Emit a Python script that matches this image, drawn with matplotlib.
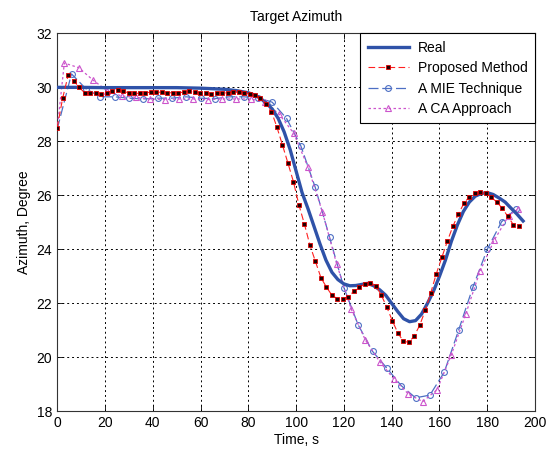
import numpy as np
import matplotlib
matplotlib.use("Agg")
import matplotlib.pyplot as plt

plt.rcParams['font.family'] = ['Liberation Sans', 'DejaVu Sans']

# Real trajectory
real_t = [0, 10, 20, 30, 40, 50, 60, 70, 75, 80, 82.5, 85, 87.5, 90, 92.5, 95, 97.5, 100,
          102.5, 105, 107.5, 110, 112.5, 115, 117.5, 120, 122.5, 125, 127.5, 130,
          132.5, 135, 137.5, 140, 142.5, 145, 147.5, 150, 152.5, 155, 157.5, 160,
          162.5, 165, 167.5, 170, 172.5, 175, 177.5, 180, 182.5, 185, 187.5, 190,
          192.5, 195]
real_y = [30.0, 30.0, 29.99, 29.99, 29.99, 29.99, 29.97, 29.93, 29.88, 29.8, 29.72, 29.6,
          29.42, 29.2, 28.85, 28.35, 27.7, 26.9, 26.1, 25.5, 24.85, 24.2, 23.6, 23.15,
          22.88, 22.72, 22.65, 22.66, 22.7, 22.74, 22.65, 22.5, 22.3, 22.0, 21.7,
          21.43, 21.32, 21.36, 21.6, 22.0, 22.45, 23.0, 23.6, 24.3, 24.9, 25.4,
          25.75, 25.97, 26.07, 26.1, 26.03, 25.9, 25.75, 25.52, 25.3, 25.05]

# Proposed method (sampled every 2.3 s)
prop_t = [round(2.3 * k, 1) for k in range(85)]
prop_y = [28.5, 29.6, 30.45, 30.25, 30.0, 29.8, 29.78, 29.78, 29.75, 29.8,
          29.88, 29.9, 29.85, 29.8, 29.78, 29.78, 29.8, 29.82, 29.82, 29.82,
          29.8, 29.8, 29.8, 29.82, 29.85, 29.82, 29.8, 29.78, 29.75, 29.78,
          29.78, 29.8, 29.82, 29.82, 29.8, 29.75, 29.7, 29.6, 29.4, 29.1,
          28.52, 27.86, 27.19, 26.5, 25.64, 24.93, 24.15, 23.55, 22.95, 22.6,
          22.3, 22.17, 22.17, 22.25, 22.45, 22.6, 22.72, 22.76, 22.65, 22.3,
          21.85, 21.35, 20.9, 20.6, 20.55, 20.8, 21.2, 21.75, 22.4, 23.1,
          23.7, 24.3, 24.85, 25.3, 25.7, 25.95, 26.08, 26.12, 26.07, 25.93,
          25.75, 25.52, 25.22, 24.92, 24.85]
prop_y = prop_y[:len(prop_t)]

# MIE technique
mie_t = [0, 6, 12, 18, 24, 30, 36, 42, 48, 54, 60, 66, 72, 78, 84, 90, 96, 102,
         108, 114, 120, 126, 132, 138, 144, 150, 156, 162, 168, 174, 180, 186, 192]
mie_y = [28.45, 30.5, 29.95, 29.65, 29.65, 29.6, 29.57, 29.6, 29.6, 29.65, 29.6,
         29.58, 29.65, 29.65, 29.62, 29.45, 28.85, 27.83, 26.3, 24.45, 22.58, 21.2,
         20.22, 19.6, 18.95, 18.5, 18.6, 19.45, 21.0, 22.6, 24.0, 25.02, 25.5]

# CA approach
ca_t = [0, 3, 9, 15, 21, 27, 33, 39, 45, 51, 57, 63, 69, 75, 81, 87, 93, 99, 105,
        111, 117, 123, 129, 135, 141, 147, 153, 159, 165, 171, 177, 183, 189, 193]
ca_y = [28.45, 30.9, 30.73, 30.27, 29.87, 29.68, 29.63, 29.57, 29.55, 29.57, 29.57,
        29.55, 29.57, 29.57, 29.57, 29.45, 29.0, 28.3, 27.04, 25.39, 23.45, 21.8,
        20.64, 19.84, 19.19, 18.64, 18.36, 18.8, 20.1, 21.6, 23.2, 24.35, 25.25, 25.5]

x_ticks = [0, 20, 40, 60, 80, 100, 120, 140, 160, 180, 200]
y_ticks = [18, 20, 22, 24, 26, 28, 30, 32]

fig = plt.figure(figsize=(5.55, 4.51), dpi=100)
ax = fig.add_axes([0.103, 0.088, 0.861, 0.838])

ax.plot(real_t, real_y, color='#2f52a8', lw=2.4, label='Real', zorder=4)
ax.plot(prop_t, prop_y, color='#ff2020', lw=0.8, ls=(0, (6, 3)), marker='s', ms=2.3,
        mfc='#200000', mec='#e00000', mew=0.6, label='Proposed Method', zorder=5)
ax.plot(mie_t, mie_y, color='#4d6fc4', lw=0.9, ls=(0, (8, 3)), marker='o', ms=4.2,
        mfc='none', mec='#4d6fc4', mew=0.8, markevery=list(range(1, len(mie_t))),
        label='A MIE Technique', zorder=3)
ax.plot(ca_t, ca_y, color='#cc55cc', lw=0.9, ls=(0, (2, 2)), marker='^', ms=4.0,
        mfc='none', mec='#cc55cc', mew=0.8, markevery=list(range(1, len(ca_t))),
        label='A CA Approach', zorder=3)

ax.set_xlim(0, 200)
ax.set_ylim(18, 32)
ax.set_xticks(x_ticks)
ax.set_yticks(y_ticks)
ax.tick_params(direction='in', top=True, right=True, labelsize=10, length=4, width=0.6)
ax.grid(True, color='black', ls=(0, (2, 3)), lw=0.7)
for s in ax.spines.values():
    s.set_linewidth(0.8)
    s.set_color('#333333')

ax.set_title('Target Azimuth', fontsize=10, pad=9)
ax.set_xlabel('Time, s', fontsize=10, labelpad=2)
ax.set_ylabel('Azimuth, Degree', fontsize=10, labelpad=4)

leg = ax.legend(loc='upper right', fontsize=10, fancybox=False, edgecolor='black',
                framealpha=1, borderaxespad=0, handlelength=3.0, labelspacing=0.45,
                borderpad=0.55, handletextpad=0.6)
leg.get_frame().set_linewidth(0.8)

fig.savefig('out.png', dpi=100)
